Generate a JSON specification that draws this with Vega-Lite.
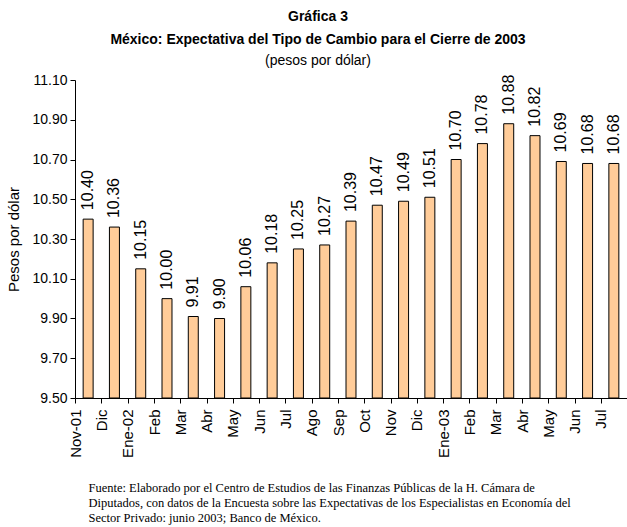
{
  "$schema": "https://vega.github.io/schema/vega-lite/v6.json",
  "autosize": "none",
  "width": 552,
  "height": 318,
  "padding": {"left": 75, "top": 80, "right": 0, "bottom": 129},
  "background": "white",
  "title": {
    "text": ["Gráfica 3", "México: Expectativa del Tipo de Cambio para el Cierre de 2003"],
    "subtitle": "(pesos por dólar)",
    "anchor": "middle",
    "frame": "group",
    "dx": -33,
    "font": "Liberation Sans",
    "fontSize": 14,
    "fontWeight": "bold",
    "lineHeight": 23,
    "color": "black",
    "subtitleFont": "Liberation Sans",
    "subtitleFontSize": 14,
    "subtitleColor": "black",
    "subtitlePadding": 7,
    "offset": 5
  },
  "data": {
    "values": [
      {"periodo": "Nov-01", "valor": 10.40},
      {"periodo": "Dic-01", "valor": 10.36},
      {"periodo": "Ene-02", "valor": 10.15},
      {"periodo": "Feb-02", "valor": 10.00},
      {"periodo": "Mar-02", "valor": 9.91},
      {"periodo": "Abr-02", "valor": 9.90},
      {"periodo": "May-02", "valor": 10.06},
      {"periodo": "Jun-02", "valor": 10.18},
      {"periodo": "Jul-02", "valor": 10.25},
      {"periodo": "Ago-02", "valor": 10.27},
      {"periodo": "Sep-02", "valor": 10.39},
      {"periodo": "Oct-02", "valor": 10.47},
      {"periodo": "Nov-02", "valor": 10.49},
      {"periodo": "Dic-02", "valor": 10.51},
      {"periodo": "Ene-03", "valor": 10.70},
      {"periodo": "Feb-03", "valor": 10.78},
      {"periodo": "Mar-03", "valor": 10.88},
      {"periodo": "Abr-03", "valor": 10.82},
      {"periodo": "May-03", "valor": 10.69},
      {"periodo": "Jun-03", "valor": 10.68},
      {"periodo": "Jul-03", "valor": 10.68}
    ]
  },
  "encoding": {
    "x": {
      "field": "periodo",
      "type": "ordinal",
      "sort": null,
      "scale": {"paddingInner": 0.62, "paddingOuter": 0.31},
      "axis": {
        "title": [
          "Fuente: Elaborado por el Centro de Estudios de las Finanzas Públicas de la H. Cámara de",
          "Diputados, con datos de la Encuesta sobre las Expectativas de los Especialistas en Economía del",
          "Sector Privado: junio 2003; Banco de México."
        ],
        "titleFont": "Liberation Serif",
        "titleFontSize": 12.5,
        "titleFontWeight": "normal",
        "titleColor": "black",
        "titleAlign": "left",
        "titleAnchor": "start",
        "titleBaseline": "alphabetic",
        "titleX": 13,
        "titleY": 93,
        "titleLineHeight": 15,
        "labelExpr": "datum.value == 'Nov-01' || slice(datum.value,0,3) == 'Ene' ? datum.value : slice(datum.value,0,3)",
        "labelAngle": -90,
        "labelFont": "Liberation Sans",
        "labelFontSize": 15,
        "labelColor": "black",
        "labelPadding": 6,
        "tickOffset": -13,
        "tickSize": 5,
        "tickColor": "black",
        "domainColor": "black",
        "grid": false
      }
    },
    "y": {
      "field": "valor",
      "type": "quantitative",
      "scale": {"domain": [9.5, 11.1], "nice": false, "zero": false},
      "axis": {
        "title": "Pesos por dólar",
        "titleFont": "Liberation Sans",
        "titleFontSize": 15,
        "titleFontWeight": "normal",
        "titleColor": "black",
        "titlePadding": 10,
        "values": [9.5, 9.7, 9.9, 10.1, 10.3, 10.5, 10.7, 10.9, 11.1],
        "format": ".2f",
        "labelFont": "Liberation Sans",
        "labelFontSize": 14,
        "labelColor": "black",
        "labelPadding": 3,
        "tickSize": 5,
        "tickColor": "black",
        "domainColor": "black",
        "grid": false
      }
    }
  },
  "layer": [
    {
      "mark": {"type": "bar", "fill": "#FFCC99", "stroke": "black", "strokeWidth": 1},
      "encoding": {
        "y2": {"datum": 9.5}
      }
    },
    {
      "mark": {"type": "text", "angle": -90, "align": "left", "baseline": "middle", "dx": 9, "font": "Liberation Sans", "fontSize": 16, "color": "black"},
      "encoding": {
        "text": {"field": "valor", "type": "quantitative", "format": ".2f"}
      }
    }
  ],
  "config": {
    "view": {"stroke": null}
  }
}
